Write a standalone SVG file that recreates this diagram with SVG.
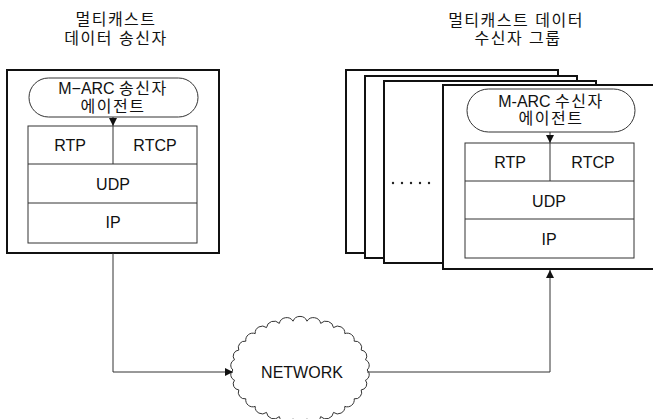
<svg xmlns="http://www.w3.org/2000/svg" width="653" height="419" viewBox="0 0 653 419">
<style>
text{font-family:"Liberation Sans","Noto Sans CJK KR",sans-serif;font-size:16px;fill:#111;text-anchor:middle}
.ko{font-size:16px;letter-spacing:1.5px}
.box{fill:#fff;stroke:#111;stroke-width:2}
.cell{fill:#fff;stroke:#333;stroke-width:1}
.pill{fill:#fff;stroke:#333;stroke-width:1}
.wire{fill:none;stroke:#333;stroke-width:1}
</style>
<defs>
<marker id="ah" viewBox="0 0 10 10" refX="10" refY="5" markerWidth="8" markerHeight="8" markerUnits="userSpaceOnUse" orient="auto"><path d="M0,0 L10,5 L0,10 z" fill="#111"/></marker>
</defs>
<rect width="653" height="419" fill="#fff"/>
<g id="sender">
<text class="ko" x="116" y="25">멀티캐스트</text>
<text class="ko" x="116" y="44">데이터 송신자</text>
<rect class="box" x="7" y="70" width="212" height="183"/>
<rect class="pill" x="29" y="78" width="169" height="39" rx="19.5"/>
<text x="113" y="94">M−ARC <tspan class="ko">송신자</tspan></text>
<text class="ko" x="113" y="112">에이전트</text>
<rect class="cell" x="28" y="126" width="169" height="117"/>
<line class="cell" x1="28" y1="164" x2="197" y2="164"/>
<line class="cell" x1="28" y1="203" x2="197" y2="203"/>
<line class="cell" x1="113" y1="126" x2="113" y2="164"/>
<text x="70" y="151">RTP</text>
<text x="155" y="151">RTCP</text>
<text x="113" y="190">UDP</text>
<text x="113" y="228">IP</text>
</g>
<g id="receivers">
<text class="ko" x="516" y="26">멀티캐스트 데이터</text>
<text class="ko" x="518" y="44">수신자 그룹</text>
<rect class="box" x="346" y="70" width="212" height="183"/>
<rect class="box" x="365" y="76" width="212" height="182"/>
<rect class="box" x="384" y="81" width="212" height="182"/>
<g fill="#222"><circle cx="393" cy="183" r="1.2"/><circle cx="402" cy="183" r="1.2"/><circle cx="411" cy="183" r="1.2"/><circle cx="420" cy="183" r="1.2"/><circle cx="429" cy="183" r="1.2"/></g>
<rect class="box" x="443" y="85" width="220" height="184"/>
<rect class="pill" x="467" y="89" width="168" height="43" rx="21.5"/>
<text x="551" y="107">M-ARC <tspan class="ko">수신자</tspan></text>
<text class="ko" x="551" y="124">에이전트</text>
<rect class="cell" x="465" y="143" width="169" height="115"/>
<line class="cell" x1="465" y1="181" x2="634" y2="181"/>
<line class="cell" x1="465" y1="219" x2="634" y2="219"/>
<line class="cell" x1="550" y1="143" x2="550" y2="181"/>
<text x="510" y="168">RTP</text>
<text x="593" y="168">RTCP</text>
<text x="549" y="207">UDP</text>
<text x="549" y="245">IP</text>
</g>
<g id="network">
<path fill="#fff" stroke="#333" stroke-width="1" d="M367,370 A6,6 0 0 1 365.5,380.2 A6,6 0 0 1 361.2,389.9 A6.5,6.5 0 0 1 354.2,398.8 A7,7 0 0 1 344.8,406.4 A7,7 0 0 1 333.5,412.4 A7.5,7.5 0 0 1 320.7,416.6 A7.5,7.5 0 0 1 307,418.8 A7.5,7.5 0 0 1 293,418.8 A7.5,7.5 0 0 1 279.3,416.6 A7.5,7.5 0 0 1 266.5,412.4 A7,7 0 0 1 255.2,406.4 A7,7 0 0 1 245.8,398.8 A6.5,6.5 0 0 1 238.8,389.9 A6,6 0 0 1 234.5,380.2 A6,6 0 0 1 233,370 A6,6 0 0 1 234.5,359.8 A6,6 0 0 1 238.8,350.1 A6.5,6.5 0 0 1 245.8,341.2 A7,7 0 0 1 255.2,333.6 A7,7 0 0 1 266.5,327.6 A7.5,7.5 0 0 1 279.3,323.4 A7.5,7.5 0 0 1 293,321.2 A7.5,7.5 0 0 1 307,321.2 A7.5,7.5 0 0 1 320.7,323.4 A7.5,7.5 0 0 1 333.5,327.6 A7,7 0 0 1 344.8,333.6 A7,7 0 0 1 354.2,341.2 A6.5,6.5 0 0 1 361.2,350.1 A6,6 0 0 1 365.5,359.8 A6,6 0 0 1 367,370 Z"/>
<text x="302" y="378">NETWORK</text>
</g>
<g id="connectors">
<line class="wire" x1="113" y1="117" x2="113" y2="126" marker-end="url(#ah)"/>
<line class="wire" x1="550" y1="132" x2="550" y2="143" marker-end="url(#ah)"/>
<path class="wire" d="M113,253 V372 H233" marker-end="url(#ah)"/>
<path class="wire" d="M367,372 H550 V270" marker-end="url(#ah)"/>
</g>
</svg>
